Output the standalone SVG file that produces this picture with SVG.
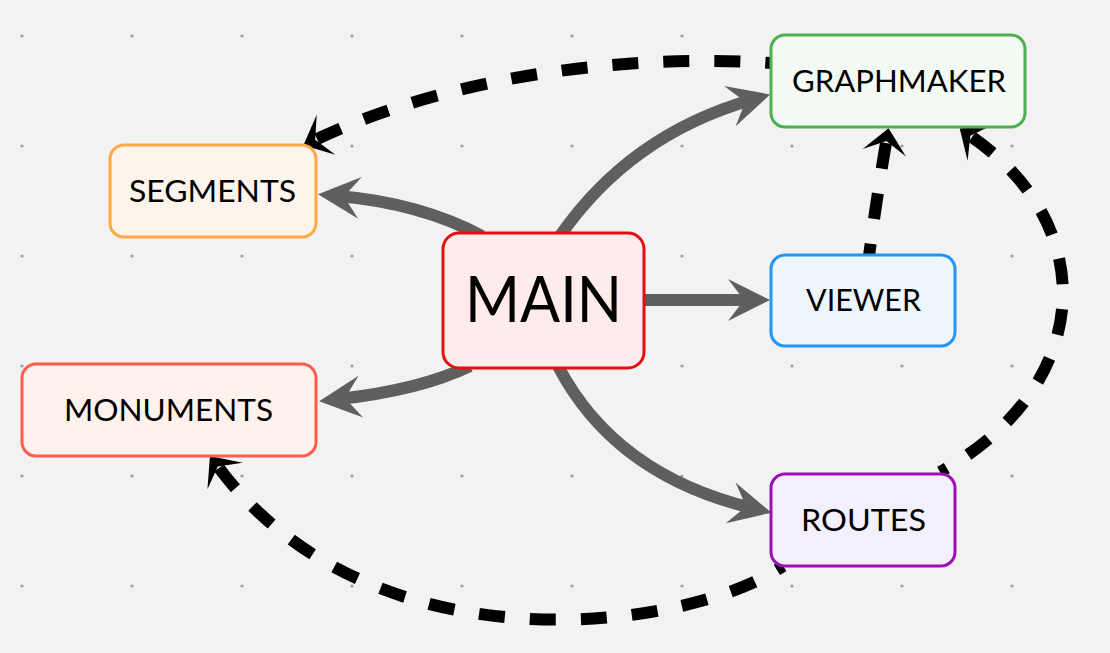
<svg xmlns="http://www.w3.org/2000/svg" width="1110" height="653" viewBox="0 0 1110 653">
<style>
.dot{fill:#90A4AE}
.solid{fill:none;stroke:#5F5F5F;stroke-width:12}
.dash{fill:none;stroke:#000;stroke-width:12;stroke-dasharray:26 25}
.box{stroke-width:3}
.lbl{font-family:Lato,"Liberation Sans",sans-serif;font-size:30px;fill:#000;text-anchor:start}
</style>
<defs>
<marker id="ag" markerUnits="userSpaceOnUse" viewBox="-50 -25 80 50" markerWidth="80" markerHeight="50" refX="-20" refY="0" orient="auto" overflow="visible">
<path d="M0,0 L-42,-21 L-26,0 L-42,21 Z" fill="#5F5F5F"/>
</marker>
<marker id="ab" markerUnits="userSpaceOnUse" viewBox="-40 -25 60 50" markerWidth="60" markerHeight="50" refX="-15" refY="0" orient="auto-start-reverse" overflow="visible">
<path d="M0,0 L-25,-22 L-13,0 L-25,22 Z" fill="#000"/>
</marker>
</defs>
<rect width="1110" height="653" fill="#F2F2F2"/>
<g id="grid">
<circle class="dot" cx="22" cy="36" r="1.6"/><circle class="dot" cx="132" cy="36" r="1.6"/><circle class="dot" cx="242" cy="36" r="1.6"/><circle class="dot" cx="352" cy="36" r="1.6"/><circle class="dot" cx="462" cy="36" r="1.6"/><circle class="dot" cx="572" cy="36" r="1.6"/><circle class="dot" cx="682" cy="36" r="1.6"/><circle class="dot" cx="792" cy="36" r="1.6"/><circle class="dot" cx="902" cy="36" r="1.6"/><circle class="dot" cx="1012" cy="36" r="1.6"/>
<circle class="dot" cx="22" cy="146" r="1.6"/><circle class="dot" cx="132" cy="146" r="1.6"/><circle class="dot" cx="242" cy="146" r="1.6"/><circle class="dot" cx="352" cy="146" r="1.6"/><circle class="dot" cx="462" cy="146" r="1.6"/><circle class="dot" cx="572" cy="146" r="1.6"/><circle class="dot" cx="682" cy="146" r="1.6"/><circle class="dot" cx="792" cy="146" r="1.6"/><circle class="dot" cx="902" cy="146" r="1.6"/><circle class="dot" cx="1012" cy="146" r="1.6"/>
<circle class="dot" cx="22" cy="256" r="1.6"/><circle class="dot" cx="132" cy="256" r="1.6"/><circle class="dot" cx="242" cy="256" r="1.6"/><circle class="dot" cx="352" cy="256" r="1.6"/><circle class="dot" cx="462" cy="256" r="1.6"/><circle class="dot" cx="572" cy="256" r="1.6"/><circle class="dot" cx="682" cy="256" r="1.6"/><circle class="dot" cx="792" cy="256" r="1.6"/><circle class="dot" cx="902" cy="256" r="1.6"/><circle class="dot" cx="1012" cy="256" r="1.6"/>
<circle class="dot" cx="22" cy="366" r="1.6"/><circle class="dot" cx="132" cy="366" r="1.6"/><circle class="dot" cx="242" cy="366" r="1.6"/><circle class="dot" cx="352" cy="366" r="1.6"/><circle class="dot" cx="462" cy="366" r="1.6"/><circle class="dot" cx="572" cy="366" r="1.6"/><circle class="dot" cx="682" cy="366" r="1.6"/><circle class="dot" cx="792" cy="366" r="1.6"/><circle class="dot" cx="902" cy="366" r="1.6"/><circle class="dot" cx="1012" cy="366" r="1.6"/>
<circle class="dot" cx="22" cy="476" r="1.6"/><circle class="dot" cx="132" cy="476" r="1.6"/><circle class="dot" cx="242" cy="476" r="1.6"/><circle class="dot" cx="352" cy="476" r="1.6"/><circle class="dot" cx="462" cy="476" r="1.6"/><circle class="dot" cx="572" cy="476" r="1.6"/><circle class="dot" cx="682" cy="476" r="1.6"/><circle class="dot" cx="792" cy="476" r="1.6"/><circle class="dot" cx="902" cy="476" r="1.6"/><circle class="dot" cx="1012" cy="476" r="1.6"/>
<circle class="dot" cx="22" cy="586" r="1.6"/><circle class="dot" cx="132" cy="586" r="1.6"/><circle class="dot" cx="242" cy="586" r="1.6"/><circle class="dot" cx="352" cy="586" r="1.6"/><circle class="dot" cx="462" cy="586" r="1.6"/><circle class="dot" cx="572" cy="586" r="1.6"/><circle class="dot" cx="682" cy="586" r="1.6"/><circle class="dot" cx="792" cy="586" r="1.6"/><circle class="dot" cx="902" cy="586" r="1.6"/><circle class="dot" cx="1012" cy="586" r="1.6"/>
</g>
<g id="connectors">
<path class="solid" d="M482 236 Q420 203 338 196" marker-end="url(#ag)"/>
<path class="solid" d="M560 236 Q630 135 751 100" marker-end="url(#ag)"/>
<path class="solid" d="M640 300 L750 300" marker-end="url(#ag)"/>
<path class="solid" d="M470 366 Q420 390 339 399" marker-end="url(#ag)"/>
<path class="solid" d="M558 366 Q615 475 752 508" marker-end="url(#ag)"/>
<path class="dash" d="M317 139 C460 72 640 54 771 63" marker-start="url(#ab)"/>
<path class="dash" d="M886 143 Q877 195 869 256" marker-start="url(#ab)"/>
<path class="dash" d="M972 137 C1105 230 1090 390 940 472" marker-start="url(#ab)"/>
<path class="dash" d="M219 468 C375 675 690 630 783 566" marker-start="url(#ab)"/>
</g>
<g id="segments">
<rect class="box" x="110" y="145" width="206" height="92" rx="14" fill="#FDF5EC" stroke="#FFA845"/>
<text class="lbl" x="129" y="202" textLength="167" lengthAdjust="spacingAndGlyphs">SEGMENTS</text>
</g>
<g id="main">
<rect class="box" x="443" y="233" width="201" height="135" rx="16" fill="#FFEBEB" stroke="#E0120F"/>
<text class="lbl" x="465" y="322" style="font-size:63px" textLength="157" lengthAdjust="spacingAndGlyphs">MAIN</text>
</g>
<g id="graphmaker">
<rect class="box" x="771" y="35" width="254" height="92" rx="14" fill="#F3FAF3" stroke="#4CAF50"/>
<text class="lbl" x="792" y="92" textLength="214" lengthAdjust="spacingAndGlyphs">GRAPHMAKER</text>
</g>
<g id="viewer">
<rect class="box" x="771" y="255" width="184" height="91" rx="14" fill="#EEF6FD" stroke="#2196F3"/>
<text class="lbl" x="806" y="311" textLength="115" lengthAdjust="spacingAndGlyphs">VIEWER</text>
</g>
<g id="monuments">
<rect class="box" x="22" y="364" width="294" height="92" rx="14" fill="#FFF1EC" stroke="#FF5E4D"/>
<text class="lbl" x="64" y="421" textLength="209" lengthAdjust="spacingAndGlyphs">MONUMENTS</text>
</g>
<g id="routes">
<rect class="box" x="771" y="474" width="184" height="92" rx="14" fill="#F4EFFD" stroke="#9C0FB5"/>
<text class="lbl" x="801" y="531" textLength="125" lengthAdjust="spacingAndGlyphs">ROUTES</text>
</g>
</svg>
